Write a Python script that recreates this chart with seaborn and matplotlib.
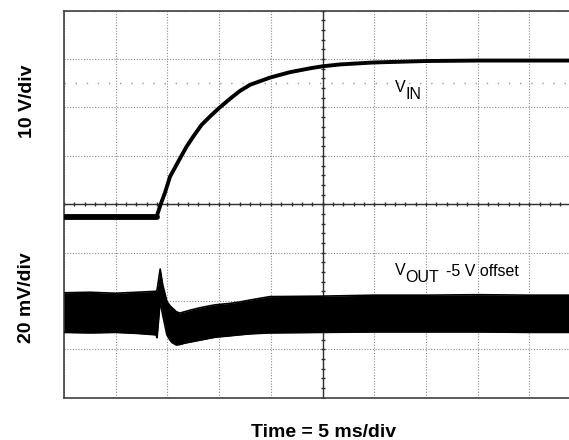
import numpy as np
import matplotlib
matplotlib.use("Agg")
import matplotlib.pyplot as plt
import seaborn as sns

# scope capture, units are screen divisions (x: 5 ms/div, y: per-channel V/div)

# VIN trace (10 V/div)
vin_t = [0.0, 1.00, 1.79, 1.87, 1.95, 2.05, 2.26, 2.37, 2.50, 2.66, 2.82, 2.99,
         3.21, 3.40, 3.60, 3.99, 4.37, 4.76, 4.99, 5.34, 5.98, 6.98, 7.99, 9.00, 10.0]
vin_v = [-0.26, -0.26, -0.26, 0.00, 0.23, 0.57, 0.98, 1.19, 1.40, 1.64, 1.81, 1.98,
         2.18, 2.34, 2.47, 2.62, 2.73, 2.81, 2.85, 2.89, 2.93, 2.96, 2.97, 2.97, 2.97]

# VOUT noise band (20 mV/div, -5 V offset): upper / lower envelope
vout_t = [0.0, 0.50, 1.00, 1.40, 1.78, 1.80, 1.86, 1.91, 1.99, 2.05, 2.09, 2.17,
          2.24, 2.34, 2.44, 2.63, 2.92, 3.21, 3.40, 3.60, 3.98, 5.0, 6.0, 7.0,
          8.0, 9.0, 10.0]
vout_hi = [-1.83, -1.82, -1.84, -1.82, -1.80, -1.77, -1.34, -1.67, -2.01, -2.10,
           -2.14, -2.22, -2.25, -2.22, -2.19, -2.14, -2.08, -2.05, -2.02, -1.98,
           -1.91, -1.90, -1.88, -1.88, -1.87, -1.88, -1.88]
vout_lo = [-2.65, -2.66, -2.65, -2.67, -2.70, -2.76, -2.00, -2.30, -2.70, -2.81,
           -2.86, -2.91, -2.90, -2.87, -2.85, -2.81, -2.75, -2.72, -2.70, -2.68,
           -2.66, -2.65, -2.64, -2.64, -2.64, -2.65, -2.65]

cursor_level = 2.50

sns.set_style("white", {"text.color": "black"})
plt.rcParams["font.family"] = ["Liberation Sans", "DejaVu Sans"]
plt.rcParams["text.color"] = "black"

fig = plt.figure(figsize=(5.69, 4.40), dpi=100)
ax = fig.add_axes([0.1125, 0.0961, 0.9087, 0.8795])

# screen graticule
ax.set_xlim(0, 10)
ax.set_ylim(-4, 4)
ax.set_xticks(range(11))
ax.set_yticks(range(-4, 5))
ax.grid(True, color="#8c8c8c", linestyle=(0, (1, 1.5)), lw=0.8)
ax.tick_params(length=0, labelbottom=False, labelleft=False)
for s in ax.spines.values():
    s.set_color("#404040")
    s.set_linewidth(1.2)

# center crosshair with minor ticks
ax.axhline(0, color="#303030", lw=1, zorder=1.5)
ax.axvline(5, color="#303030", lw=1, zorder=1.5)
ax.plot(np.arange(0, 10.01, 0.2), np.zeros(51), ls="none", marker="|",
        ms=3.4, mew=1, color="#303030", zorder=1.5)
ax.plot(np.full(41, 5.0), np.arange(-4, 4.01, 0.2), ls="none", marker="_",
        ms=3.4, mew=1, color="#303030", zorder=1.5)

# cursor line
ax.axhline(cursor_level, color="#9a9a9a", ls=(0, (1, 7)), lw=1, zorder=1.5)

# VOUT band
ax.fill_between(vout_t, vout_lo, vout_hi, color="black", lw=0, zorder=3)
sns.lineplot(x=vout_t, y=vout_hi, ax=ax, color="black", lw=1.2, zorder=3)
sns.lineplot(x=vout_t, y=vout_lo, ax=ax, color="black", lw=1.2, zorder=3)

# VIN (flat pre-rise part is noisier, so drawn heavier)
sns.lineplot(x=vin_t, y=vin_v, ax=ax, color="black", lw=2.8, zorder=4)
sns.lineplot(x=vin_t[:3], y=vin_v[:3], ax=ax, color="black", lw=4.2, zorder=4)

ax.set_xlabel("")
ax.set_ylabel("")

# trace labels
fs = 11.5
ax.text(6.40, 2.32, "V", fontsize=fs, ha="left", va="baseline")
ax.annotate("IN", xy=(6.40, 2.32), xytext=(7.7, -4.7), textcoords="offset points",
            fontsize=fs, ha="left", va="baseline")
ax.text(6.40, -1.46, "V", fontsize=fs, ha="left", va="baseline")
ax.annotate("OUT", xy=(6.40, -1.46), xytext=(7.7, -4.8), textcoords="offset points",
            fontsize=fs, ha="left", va="baseline")
ax.annotate("-5 V offset", xy=(6.40, -1.46), xytext=(36.5, -0.5), textcoords="offset points",
            fontsize=fs, ha="left", va="baseline")

# channel scales and time base
fig.text(27 / 569, 1 - 101.5 / 440, "10 V/div", rotation=90, fontsize=14,
         fontweight="bold", ha="center", va="center")
fig.text(27 / 569, 1 - 297.5 / 440, "20 mV/div", rotation=90, fontsize=14,
         fontweight="bold", ha="center", va="center")
fig.text(323.5 / 569, 3.5 / 440, "Time = 5 ms/div", fontsize=14,
         fontweight="bold", ha="center", va="baseline")

fig.savefig("out.png", dpi=100)
